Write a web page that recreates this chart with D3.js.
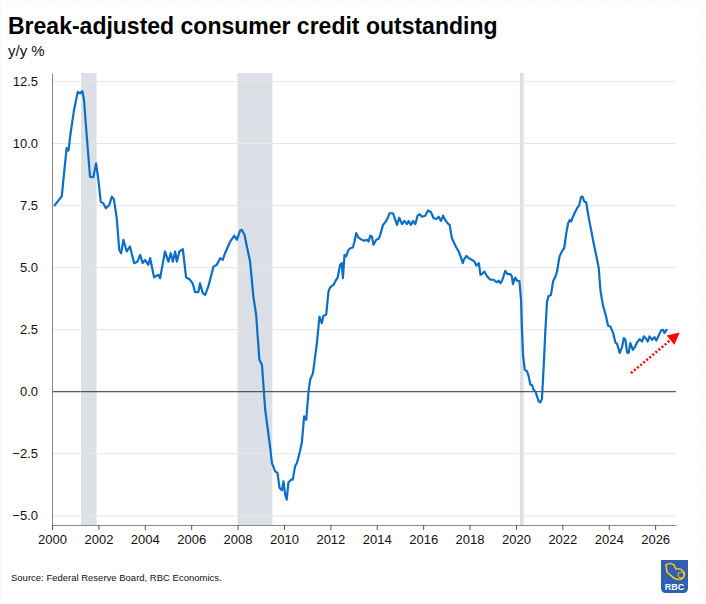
<!DOCTYPE html>
<html>
<head>
<meta charset="utf-8">
<script src="https://cdn.jsdelivr.net/npm/d3@7"></script>
<style>
  body { margin: 0; background: #fff; }
  svg { display: block; font-family: "Liberation Sans", Arial, sans-serif; }
</style>
</head>
<body>
<script>
const WIDTH = 706;
const HEIGHT = 604;
const LEFT = 52;
const RIGHT = 676;
const TOP = 73;
const BOTTOM = 525;
const LINECOLOR = "#0b6fc7";

// data (decimal year, y/y %)
const years = [
  2000.09, 2000.35, 2000.42, 2000.52, 2000.63, 2000.71, 2000.80, 2000.95, 2001.11, 2001.21,
  2001.31, 2001.38, 2001.50, 2001.64, 2001.78, 2001.90, 2002.00, 2002.10, 2002.21, 2002.32,
  2002.47, 2002.58, 2002.67, 2002.79, 2002.90, 2002.98, 2003.08, 2003.22, 2003.36, 2003.54,
  2003.68, 2003.80, 2003.91, 2004.01, 2004.15, 2004.23, 2004.40, 2004.59, 2004.66, 2004.87,
  2005.02, 2005.12, 2005.21, 2005.31, 2005.38, 2005.49, 2005.64, 2005.78, 2005.95, 2006.07,
  2006.17, 2006.31, 2006.38, 2006.50, 2006.60, 2006.74, 2006.96, 2007.10, 2007.25, 2007.36,
  2007.46, 2007.68, 2007.86, 2007.97, 2008.11, 2008.18, 2008.30, 2008.40, 2008.54, 2008.68,
  2008.80, 2008.94, 2009.05, 2009.19, 2009.40, 2009.48, 2009.62, 2009.72, 2009.81, 2009.91,
  2009.98, 2010.05, 2010.12, 2010.19, 2010.30, 2010.38, 2010.48, 2010.56, 2010.67, 2010.77,
  2010.87, 2010.96, 2011.06, 2011.13, 2011.25, 2011.42, 2011.53, 2011.63, 2011.70, 2011.82,
  2011.92, 2011.99, 2012.14, 2012.25, 2012.31, 2012.42, 2012.49, 2012.54, 2012.61, 2012.68,
  2012.78, 2012.86, 2012.97, 2013.04, 2013.11, 2013.21, 2013.36, 2013.46, 2013.58, 2013.65,
  2013.72, 2013.79, 2013.86, 2013.98, 2014.08, 2014.15, 2014.27, 2014.37, 2014.47, 2014.55,
  2014.70, 2014.80, 2014.87, 2014.97, 2015.09, 2015.19, 2015.30, 2015.37, 2015.47, 2015.56,
  2015.66, 2015.76, 2015.85, 2015.95, 2016.09, 2016.21, 2016.34, 2016.45, 2016.57, 2016.67,
  2016.77, 2016.86, 2016.95, 2017.05, 2017.14, 2017.24, 2017.32, 2017.43, 2017.53, 2017.64,
  2017.71, 2017.75, 2017.87, 2017.97, 2018.11, 2018.21, 2018.30, 2018.40, 2018.47, 2018.54,
  2018.64, 2018.76, 2018.90, 2019.04, 2019.16, 2019.26, 2019.33, 2019.40, 2019.54, 2019.64,
  2019.76, 2019.83, 2019.87, 2019.97, 2020.05, 2020.15, 2020.22, 2020.26, 2020.31, 2020.38,
  2020.48, 2020.55, 2020.62, 2020.69, 2020.76, 2020.84, 2020.91, 2020.98, 2021.05, 2021.12,
  2021.19, 2021.27, 2021.34, 2021.41, 2021.51, 2021.60, 2021.70, 2021.77, 2021.88, 2021.98,
  2022.08, 2022.17, 2022.25, 2022.32, 2022.38, 2022.46, 2022.56, 2022.66, 2022.73, 2022.80,
  2022.87, 2022.95, 2023.03, 2023.13, 2023.24, 2023.35, 2023.47, 2023.57, 2023.64, 2023.70,
  2023.76, 2023.88, 2023.97, 2024.07, 2024.19, 2024.29, 2024.36, 2024.47, 2024.58, 2024.65,
  2024.72, 2024.79, 2024.86, 2024.93, 2025.04, 2025.14, 2025.22, 2025.33, 2025.44, 2025.51,
  2025.62, 2025.68, 2025.76, 2025.87, 2025.97, 2026.05, 2026.15, 2026.26, 2026.35, 2026.40,
  2026.52
];
const growth = [
  7.48, 7.79, 7.86, 8.80, 9.81, 9.71, 10.41, 11.35, 12.08, 12.02,
  12.11, 11.75, 10.27, 8.66, 8.64, 9.20, 8.53, 7.66, 7.59, 7.39,
  7.52, 7.86, 7.75, 6.99, 5.71, 5.58, 6.12, 5.65, 5.85, 5.18,
  5.24, 5.51, 5.18, 5.31, 5.11, 5.38, 4.61, 4.71, 4.57, 5.65,
  5.24, 5.58, 5.24, 5.65, 5.24, 5.65, 5.74, 4.61, 4.51, 4.35,
  4.01, 4.01, 4.37, 3.97, 3.90, 4.24, 5.04, 5.11, 5.38, 5.31,
  5.58, 6.05, 6.29, 6.12, 6.49, 6.52, 6.32, 5.85, 5.24, 3.84,
  3.10, 1.29, 1.09, -0.72, -2.20, -2.87, -3.21, -3.27, -3.88, -3.97,
  -3.61, -4.14, -4.35, -3.67, -3.54, -3.54, -3.00, -2.87, -2.47, -2.06,
  -0.99, -1.13, 0.01, 0.48, 0.75, 1.96, 3.03, 2.76, 3.06, 3.10,
  4.04, 4.20, 4.31, 4.51, 4.58, 5.11, 5.18, 4.57, 5.51, 5.45,
  5.71, 5.78, 5.81, 6.05, 6.39, 6.21, 6.12, 6.08, 6.12, 6.05,
  6.29, 6.25, 5.92, 6.12, 6.16, 6.32, 6.72, 6.83, 6.99, 7.19,
  7.19, 6.92, 6.72, 7.01, 6.75, 6.88, 6.75, 6.88, 6.72, 6.88,
  6.75, 7.09, 7.15, 7.05, 7.09, 7.30, 7.23, 6.99, 6.96, 7.05,
  6.88, 7.09, 6.92, 6.79, 6.72, 6.18, 6.02, 5.81, 5.65, 5.38,
  5.18, 5.31, 5.47, 5.38, 5.31, 5.24, 5.08, 5.18, 4.71, 4.74,
  4.84, 4.64, 4.51, 4.51, 4.41, 4.47, 4.37, 4.47, 4.87, 4.74,
  4.74, 4.64, 4.33, 4.60, 4.47, 4.46, 3.70, 2.49, 1.42, 0.89,
  0.82, 0.62, 0.28, 0.28, 0.08, 0.01, -0.19, -0.39, -0.43, -0.29,
  0.89, 2.49, 3.63, 3.86, 3.90, 4.44, 4.64, 4.84, 5.45, 5.65,
  5.78, 6.39, 6.79, 6.92, 6.85, 7.05, 7.26, 7.43, 7.52, 7.83,
  7.86, 7.66, 7.62, 7.05, 6.52, 5.98, 5.45, 4.98, 4.10, 3.75,
  3.45, 3.05, 2.66, 2.63, 2.36, 1.98, 1.93, 1.56, 1.82, 2.16,
  2.09, 1.58, 1.56, 1.96, 1.69, 1.82, 1.98, 2.12, 2.02, 2.23,
  2.12, 2.02, 2.23, 2.09, 2.20, 2.06, 2.25, 2.47, 2.49, 2.36,
  2.52
];

// recessions (decimal years)
const recessionStart = [2001.25, 2008.0, 2020.17];
const recessionEnd = [2001.92, 2009.5, 2020.33];

// tick labels
const xTicks = d3.range(2000, 2027, 2);
const yTicks = [-5, -2.5, 0, 2.5, 5, 7.5, 10, 12.5];

// dotted trend arrow (from / to, in data units)
const arrowFrom = [2024.96, 0.75];
const arrowTo = [2027.06, 2.39];

const xScale = d3.scaleLinear().domain([2000, 2026.9]).range([LEFT, RIGHT]);
const yScale = d3.scaleLinear().domain([-5.37, 12.84]).range([BOTTOM, TOP]);

const svg = d3.select("body").append("svg")
  .attr("width", WIDTH)
  .attr("height", HEIGHT);

//faint frame of the picture
svg.append("rect")
  .attr("x", 0.5).attr("y", 1.5)
  .attr("width", 701).attr("height", 601)
  .attr("fill", "none")
  .attr("stroke", "#e4ecf2")
  .attr("stroke-dasharray", "1,2");

//title and unit
svg.append("text")
  .attr("x", 8).attr("y", 34)
  .attr("font-size", 23)
  .attr("font-weight", "bold")
  .attr("fill", "#000")
  .text("Break-adjusted consumer credit outstanding");

svg.append("text")
  .attr("x", 8).attr("y", 56)
  .attr("font-size", 15)
  .attr("fill", "#111")
  .text("y/y %");

//recession bars
svg.append("g")
  .selectAll("rect")
  .data(recessionStart)
  .join("rect")
  .attr("x", (d) => xScale(d))
  .attr("y", TOP)
  .attr("width", (d, i) => xScale(recessionEnd[i]) - xScale(d))
  .attr("height", BOTTOM - TOP)
  .attr("fill", "#dcdfe6");

//grid lines
svg.append("g")
  .selectAll("line")
  .data(yTicks.filter((d) => d !== 0))
  .join("line")
  .attr("x1", LEFT).attr("x2", RIGHT)
  .attr("y1", (d) => yScale(d)).attr("y2", (d) => yScale(d))
  .attr("stroke", "#e6e6e6")
  .attr("stroke-width", 1);

//zero line
svg.append("line")
  .attr("x1", LEFT).attr("x2", RIGHT)
  .attr("y1", yScale(0)).attr("y2", yScale(0))
  .attr("stroke", "#333")
  .attr("stroke-width", 1);

//y axis
const yAxis = d3.axisLeft(yScale)
  .tickValues(yTicks)
  .tickFormat(d3.format(".1f"))
  .tickSize(0)
  .tickPadding(14);

const yg = svg.append("g")
  .attr("transform", "translate(" + LEFT + ",0)")
  .call(yAxis);
yg.select(".domain").attr("stroke", "#888");
yg.selectAll("text").attr("font-size", 13).attr("fill", "#111")
  .attr("font-family", "Liberation Sans, Arial, sans-serif");

//x axis
const xAxis = d3.axisBottom(xScale)
  .tickValues(xTicks)
  .tickFormat(d3.format("d"))
  .tickSizeInner(5)
  .tickSizeOuter(0)
  .tickPadding(5);

const xg = svg.append("g")
  .attr("transform", "translate(0," + BOTTOM + ")")
  .call(xAxis);
xg.select(".domain").attr("stroke", "#888");
xg.selectAll(".tick line").attr("stroke", "#555");
xg.selectAll("text").attr("font-size", 13).attr("fill", "#111")
  .attr("font-family", "Liberation Sans, Arial, sans-serif");

//the line
const line = d3.line()
  .x((d, i) => xScale(years[i]))
  .y((d) => yScale(d));

svg.append("path")
  .datum(growth)
  .attr("d", line)
  .attr("fill", "none")
  .attr("stroke", LINECOLOR)
  .attr("stroke-width", 2.2)
  .attr("stroke-linejoin", "round");

//dotted red arrow
const ax1 = xScale(arrowFrom[0]), ay1 = yScale(arrowFrom[1]);
const ax2 = xScale(arrowTo[0]), ay2 = yScale(arrowTo[1]);
const ang = Math.atan2(ay2 - ay1, ax2 - ax1);
const headLen = 12;
const bx = ax2 - headLen * Math.cos(ang), by = ay2 - headLen * Math.sin(ang);

svg.append("line")
  .attr("x1", ax1).attr("y1", ay1)
  .attr("x2", bx).attr("y2", by)
  .attr("stroke", "#ff0000")
  .attr("stroke-width", 2.5)
  .attr("stroke-dasharray", "2,2");

svg.append("path")
  .attr("d", "M" + ax2 + "," + ay2 +
    "L" + (bx + 6 * Math.sin(ang)) + "," + (by - 6 * Math.cos(ang)) +
    "L" + (bx - 6 * Math.sin(ang)) + "," + (by + 6 * Math.cos(ang)) + "Z")
  .attr("fill", "#ff0000");

//source
svg.append("text")
  .attr("x", 11).attr("y", 581)
  .attr("font-size", 9.5)
  .attr("fill", "#111")
  .text("Source: Federal Reserve Board, RBC Economics.");

//RBC logo
const logo = svg.append("g").attr("transform", "translate(661,560)");
logo.append("path")
  .attr("d", "M0,0 H27 V28 Q27,33 22,33 H5 Q0,33 0,28 Z")
  .attr("fill", "#2f5fb3");
logo.append("path")
  .attr("d", "M5,5 Q9,2 13,5 L15,9 Q20,8 22,11 Q25,14 22,18 Q18,21 13,18 Q9,15 6,12 Z")
  .attr("fill", "none")
  .attr("stroke", "#f5c518")
  .attr("stroke-width", 1.6);
logo.append("circle")
  .attr("cx", 20).attr("cy", 15).attr("r", 3)
  .attr("fill", "none")
  .attr("stroke", "#f5c518")
  .attr("stroke-width", 1);
logo.append("text")
  .attr("x", 13.5).attr("y", 30)
  .attr("text-anchor", "middle")
  .attr("font-size", 9)
  .attr("font-weight", "bold")
  .attr("fill", "#fff")
  .text("RBC");
</script>
</body>
</html>
